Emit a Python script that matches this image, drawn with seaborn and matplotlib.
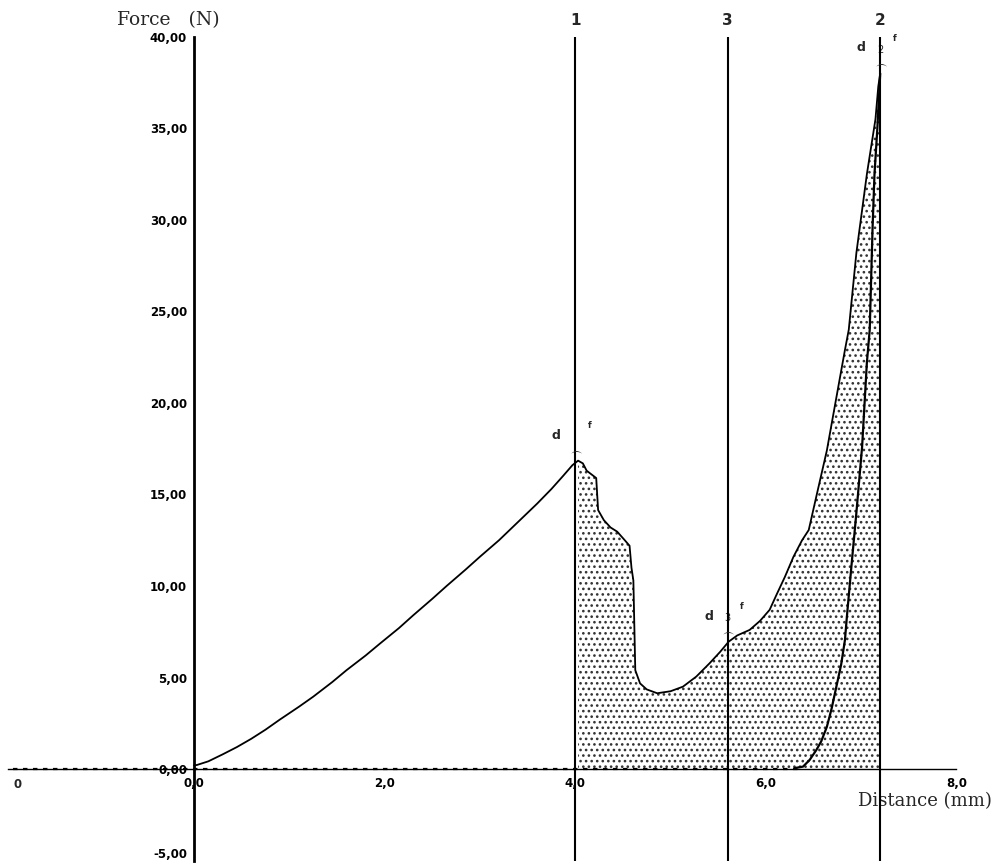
import matplotlib
matplotlib.use("Agg")
import matplotlib.pyplot as plt
import seaborn as sns
import numpy as np

# ---------------- data ----------------
load_x = [0.0, 0.03, 0.15, 0.3, 0.45, 0.6, 0.75, 0.9, 1.1, 1.25, 1.45, 1.6, 1.8, 1.95, 2.15, 2.3,
          2.5, 2.65, 2.85, 3.0, 3.2, 3.35, 3.5, 3.6, 3.75, 3.87, 3.97, 4.03,
          4.08, 4.12, 4.22, 4.24, 4.30, 4.37, 4.44, 4.52, 4.57, 4.59, 4.61, 4.63, 4.68, 4.75, 4.86,
          5.0, 5.13, 5.27, 5.41, 5.52, 5.61, 5.7, 5.83, 5.94, 6.04, 6.11, 6.2, 6.29, 6.38, 6.45,
          6.53, 6.64, 6.74, 6.83, 6.87, 6.95, 7.06, 7.15, 7.18, 7.2]
load_y = [0.2, 0.22, 0.42, 0.8, 1.2, 1.65, 2.15, 2.7, 3.4, 3.95, 4.75, 5.4, 6.2, 6.85, 7.7, 8.4,
          9.3, 10.0, 10.9, 11.6, 12.5, 13.25, 14.0, 14.5, 15.3, 16.0, 16.6, 16.85,
          16.7, 16.3, 15.9, 14.15, 13.6, 13.2, 12.97, 12.5, 12.2, 11.0, 10.3, 5.4, 4.68, 4.35, 4.14,
          4.25, 4.5, 5.05, 5.78, 6.4, 6.96, 7.3, 7.6, 8.1, 8.7, 9.5, 10.5, 11.6, 12.5, 13.06,
          14.9, 17.4, 20.3, 22.9, 24.0, 28.2, 32.5, 35.5, 37.3, 38.0]

return_x = [7.2, 7.17, 7.14, 7.12, 7.09, 7.06, 7.01, 6.95, 6.90, 6.85, 6.83, 6.79, 6.74, 6.69,
            6.64, 6.58, 6.53, 6.46, 6.39, 6.3]
return_y = [38.0, 35.0, 32.5, 29.6, 24.0, 22.2, 17.6, 14.0, 11.2, 8.3, 7.05, 5.7, 4.5, 3.3,
            2.3, 1.5, 1.04, 0.5, 0.13, 0.05]

baseline_x = [-1.9, 6.39]
baseline_y = [0.0, 0.0]

marker_x = [4.0, 7.2, 5.6]
marker_y = [16.85, 38.0, 6.96]
marker_labels = ["1", "2", "3"]

area_start, area_end = 4.0, 7.2

y_ticks = [-5, 0, 5, 10, 15, 20, 25, 30, 35, 40]
y_tick_labels = ["-5,00", "0,00", "5,00", "10,00", "15,00", "20,00", "25,00", "30,00", "35,00", "40,00"]
x_ticks = [0, 2, 4, 6, 8]
x_tick_labels = ["0,0", "2,0", "4,0", "6,0", "8,0"]

# ---------------- figure ----------------
sns.set_style("white")
plt.rcParams["hatch.linewidth"] = 1.1
fig = plt.figure(figsize=(9.98, 8.64), dpi=100)
ax = fig.add_axes([0, 0, 1, 1])
ax.set_xlim(-2.036, 8.436)
ax.set_ylim(-5.19, 42.02)

# shaded area under the curve between markers 1 and 2
lx = np.array(load_x)
ly = np.array(load_y)
ax.fill_between(lx, ly, 0, where=(lx >= area_start) & (lx <= area_end),
                facecolor="white", edgecolor="#333333", hatch="...", linewidth=0, zorder=1)

sns.lineplot(x=load_x, y=load_y, ax=ax, sort=False, estimator=None, color="black", lw=1.3, zorder=3)
sns.lineplot(x=return_x, y=return_y, ax=ax, sort=False, estimator=None, color="black", lw=1.6, zorder=3)
ax.plot(baseline_x, baseline_y, color="black", lw=1.6, ls=(0, (2, 2.5)), zorder=3)

# vertical marker lines
ax.vlines(marker_x, -5.0, 40.0, color="black", lw=1.5, zorder=4)
for mx, my, lab in zip(marker_x, marker_y, marker_labels):
    ax.text(mx, 40.9, lab, ha="center", va="center", fontsize=11, fontweight="bold",
            family="DejaVu Sans")
    ax.text(mx, my + 0.55, r"$\frown$", ha="center", va="center", fontsize=8, zorder=5)
    ax.text(mx - 0.2, my + 1.4, "d", ha="center", va="center", fontsize=9, fontweight="bold",
            family="DejaVu Sans")
    ax.text(mx + 0.15, my + 1.9, "f", ha="center", va="center", fontsize=6, fontweight="bold",
            family="DejaVu Sans")
    if lab != "1":
        ax.text(mx, my + 1.3, lab, ha="center", va="center", fontsize=7, family="DejaVu Sans")

# axes spines
for s in ["top", "right"]:
    ax.spines[s].set_visible(False)
ax.spines["left"].set_position(("data", 0))
ax.spines["bottom"].set_position(("data", 0))
ax.spines["left"].set_bounds(-5, 40)
ax.spines["bottom"].set_bounds(-1.95, 8.0)
ax.spines["left"].set_linewidth(2.0)
ax.spines["bottom"].set_linewidth(1.0)
ax.spines["left"].set_color("black")
ax.spines["bottom"].set_color("black")

ax.set_yticks(y_ticks)
ax.set_yticklabels(y_tick_labels)
ax.set_xticks(x_ticks)
ax.set_xticklabels(x_tick_labels)
ax.tick_params(axis="y", direction="out", length=4, width=1.2, pad=1, labelsize=8.5, colors="black")
ax.tick_params(axis="x", direction="inout", length=5, width=1.0, pad=3, labelsize=8.5, colors="black")
for t in ax.get_xticklabels() + ax.get_yticklabels():
    t.set_fontweight("bold")
    t.set_family("DejaVu Sans")
ytl = ax.get_yticklabels()
ytl[0].set_va("bottom")
ax.grid(False)

ax.text(-1.85, -0.5, "0", ha="center", va="top", fontsize=8.5, fontweight="bold", family="DejaVu Sans")
ax.text(-0.27, 40.9, "Force   (N)", ha="center", va="center", fontsize=13.5, family="DejaVu Serif")
ax.text(7.67, -1.75, "Distance (mm)", ha="center", va="center", fontsize=13, family="DejaVu Serif")

fig.savefig("out.png", dpi=100)
